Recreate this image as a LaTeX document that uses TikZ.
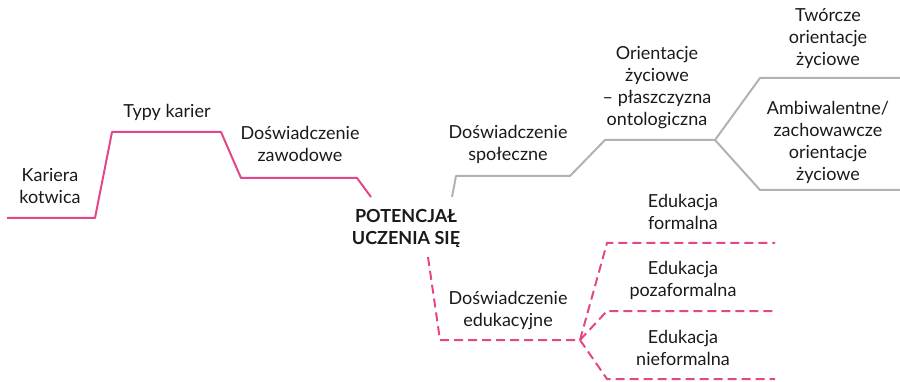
\documentclass[tikz,border=0pt]{standalone}
\usepackage{fontspec}
\setmainfont{Lato}
\begin{document}
\definecolor{pinkline}{HTML}{E4468A}
\definecolor{grayline}{HTML}{B2B2B2}
\definecolor{txt}{HTML}{1A1A1A}
\begin{tikzpicture}[x=1pt,y=-1pt,
  lbl/.style={align=center,text=txt,font=\fontsize{18}{22}\selectfont,inner sep=0pt},
  core/.style={align=center,text=txt,font=\fontsize{18}{22}\bfseries\selectfont,inner sep=0pt},
  pinkpath/.style={draw=pinkline,line width=2pt,line join=round},
  graypath/.style={draw=grayline,line width=2pt,line join=round},
  dashpath/.style={draw=pinkline,line width=2pt,dash pattern=on 9pt off 5pt}]
\useasboundingbox (0,0) rectangle (900,382);

% career line
\coordinate (c0) at (7,218);
\coordinate (c1) at (95,218);
\coordinate (c2) at (112,132);
\coordinate (c3) at (221,132);
\coordinate (c4) at (241,178);
\coordinate (c5) at (357,178);
\coordinate (c6) at (371,197);
\draw[pinkpath] (c0) -- (c1) -- (c2) -- (c3) -- (c4) -- (c5) -- (c6);

% social line
\coordinate (s0) at (452,197);
\coordinate (s1) at (456,176);
\coordinate (s2) at (570,176);
\coordinate (s3) at (605,140);
\coordinate (s4) at (715,140);
\coordinate (s5) at (760,78);
\coordinate (s6) at (900,78);
\coordinate (s7) at (760,190);
\coordinate (s8) at (900,190);
\draw[graypath] (s0) -- (s1) -- (s2) -- (s3) -- (s4) -- (s5) -- (s6);
\draw[graypath] (s4) -- (s7) -- (s8);

% education line
\coordinate (e0) at (428,257);
\coordinate (e1) at (440,340);
\coordinate (e2) at (580,340);
\coordinate (e3) at (607,243);
\coordinate (e4) at (775,243);
\coordinate (e5) at (607,311);
\coordinate (e6) at (775,311);
\coordinate (e7) at (607,379);
\coordinate (e8) at (775,379);
\draw[dashpath] (e0) -- (e1) -- (e2);
\draw[dashpath] (e2) -- (e3) -- (e4);
\draw[dashpath] (e2) -- (e5) -- (e6);
\draw[dashpath] (e2) -- (e7) -- (e8);

% labels
\node[core] (core) at (406,228) {POTENCJAŁ\\UCZENIA SIĘ};
\node[lbl] (kotwica) at (50,186) {Kariera\\kotwica};
\node[lbl] (typy) at (167,112) {Typy karier};
\node[lbl] (zawod) at (300,144) {Doświadczenie\\zawodowe};
\node[lbl] (spol) at (508,144) {Doświadczenie\\społeczne};
\node[lbl] (orient) at (657,88) {Orientacje\\życiowe\\– płaszczyzna\\ontologiczna};
\node[lbl] (tworcze) at (828,39) {Twórcze\\orientacje\\życiowe};
\node[lbl] (ambi) at (828,142) {Ambiwalentne/\\zachowawcze\\orientacje\\życiowe};
\node[lbl] (edu) at (508,311) {Doświadczenie\\edukacyjne};
\node[lbl] (formal) at (683,212) {Edukacja\\formalna};
\node[lbl] (pozaf) at (683,280) {Edukacja\\pozaformalna};
\node[lbl] (nief) at (683,348) {Edukacja\\nieformalna};
\end{tikzpicture}
\end{document}
